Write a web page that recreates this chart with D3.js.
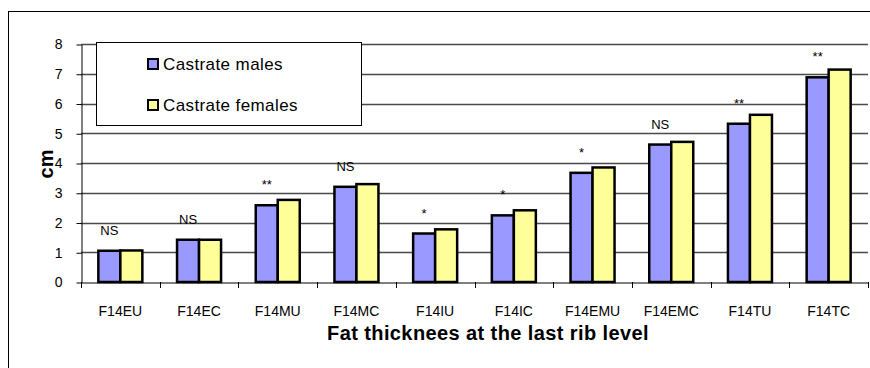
<!DOCTYPE html>
<html>
<head>
<meta charset="utf-8">
<script src="https://cdn.jsdelivr.net/npm/d3@7"></script>
<style>
  html, body { margin: 0; padding: 0; background: #fff; }
  svg { display: block; font-family: Arial, "Liberation Sans", sans-serif; }
</style>
</head>
<body>
<svg id="chart" width="870" height="368"></svg>
<script>
const categories = ["F14EU", "F14EC", "F14MU", "F14MC", "F14IU", "F14IC", "F14EMU", "F14EMC", "F14TU", "F14TC"];
const seriesNames = ["Castrate males", "Castrate females"];
const males   = [1.05, 1.42, 2.58, 3.20, 1.63, 2.24, 3.67, 4.62, 5.32, 6.88];
const females = [1.06, 1.42, 2.76, 3.29, 1.77, 2.41, 3.85, 4.71, 5.62, 7.14];
const significance = ["NS", "NS", "**", "NS", "*", "*", "*", "NS", "**", "**"];
const yTicks = [0, 1, 2, 3, 4, 5, 6, 7, 8];
const colors = ["#9999FF", "#FFFF99"];

const svg = d3.select("#chart");
const plot = { left: 81, right: 868, top: 44, bottom: 282 };

// outer frame
svg.append("rect").attr("x", 8.5).attr("y", 11.5).attr("width", 900).attr("height", 400)
  .attr("fill", "#fff").attr("stroke", "#000").attr("stroke-width", 1);

const x = d3.scaleBand().domain(categories).range([plot.left, plot.right]).paddingInner(0).paddingOuter(0);
const y = d3.scaleLinear().domain([0, 8]).range([plot.bottom, plot.top]);
const xs = d3.scaleBand().domain([0, 1]).range([0, 44]);

// gridlines
svg.append("g").selectAll("line").data(yTicks.filter(d => d > 0)).join("line")
  .attr("x1", plot.left).attr("x2", plot.right)
  .attr("y1", d => Math.round(y(d)) + 0.5).attr("y2", d => Math.round(y(d)) + 0.5)
  .attr("stroke", "#4a4a4a").attr("stroke-width", 1.5);

// y axis
const yAxis = svg.append("g").attr("transform", `translate(${plot.left + 0.5},0.5)`)
  .call(d3.axisLeft(y).tickValues(yTicks).tickSize(5).tickPadding(14).tickSizeOuter(0));
yAxis.select(".domain").attr("stroke", "#000");
yAxis.selectAll(".tick line").attr("stroke", "#000");
yAxis.selectAll("text").attr("font-size", 14).attr("fill", "#000")
  .attr("font-family", "Arial, 'Liberation Sans', sans-serif");

// x axis
const xAxis = svg.append("g").attr("transform", `translate(0,${plot.bottom + 0.5})`)
  .call(d3.axisBottom(x).tickSize(0).tickPadding(24));
xAxis.select(".domain").attr("stroke", "#000");
xAxis.selectAll("text").attr("font-size", 14).attr("fill", "#000")
  .attr("font-family", "Arial, 'Liberation Sans', sans-serif");
// boundary ticks
const bounds = categories.map(c => x(c)).concat([plot.right]);
svg.append("g").selectAll("line").data(bounds).join("line")
  .attr("x1", d => Math.round(d) + 0.5).attr("x2", d => Math.round(d) + 0.5)
  .attr("y1", plot.bottom).attr("y2", plot.bottom + 6)
  .attr("stroke", "#000");

// bars
const data = categories.map((c, i) => ({ c, vals: [males[i], females[i]], sig: significance[i] }));
const groups = svg.append("g").selectAll("g").data(data).join("g")
  .attr("transform", d => `translate(${x(d.c) + x.bandwidth() / 2 - 22},0)`);
groups.selectAll("rect").data(d => d.vals.map((v, k) => ({ v, k }))).join("rect")
  .attr("x", d => xs(d.k))
  .attr("width", xs.bandwidth())
  .attr("y", d => y(d.v))
  .attr("height", d => y(0) - y(d.v))
  .attr("fill", d => colors[d.k])
  .attr("stroke", "#000").attr("stroke-width", 2.5);

// significance labels above blue bars
groups.append("text")
  .attr("x", xs(0) + xs.bandwidth() / 2)
  .attr("y", d => y(d.vals[0]) - 16)
  .attr("text-anchor", "middle")
  .attr("font-size", 13)
  .text(d => d.sig);

// axis titles
svg.append("text").attr("transform", "translate(53,164) rotate(-90)")
  .attr("text-anchor", "middle").attr("font-size", 20).attr("font-weight", "bold").text("cm");
svg.append("text").attr("x", 488).attr("y", 340).attr("text-anchor", "middle")
  .attr("font-size", 20).attr("font-weight", "bold").attr("letter-spacing", 0.4)
  .text("Fat thicknees at the last rib level");

// legend
const lg = svg.append("g");
lg.append("rect").attr("x", 96.5).attr("y", 42.5).attr("width", 265).attr("height", 83)
  .attr("fill", "#fff").attr("stroke", "#000").attr("stroke-width", 1);
const items = lg.selectAll("g").data(seriesNames).join("g")
  .attr("transform", (d, i) => `translate(148,${59 + i * 41})`);
items.append("rect").attr("width", 10).attr("height", 10)
  .attr("fill", (d, i) => colors[i]).attr("stroke", "#000").attr("stroke-width", 2);
items.append("text").attr("x", 15).attr("y", 11).attr("font-size", 17).attr("letter-spacing", 0.4)
  .text(d => d);
</script>
</body>
</html>
